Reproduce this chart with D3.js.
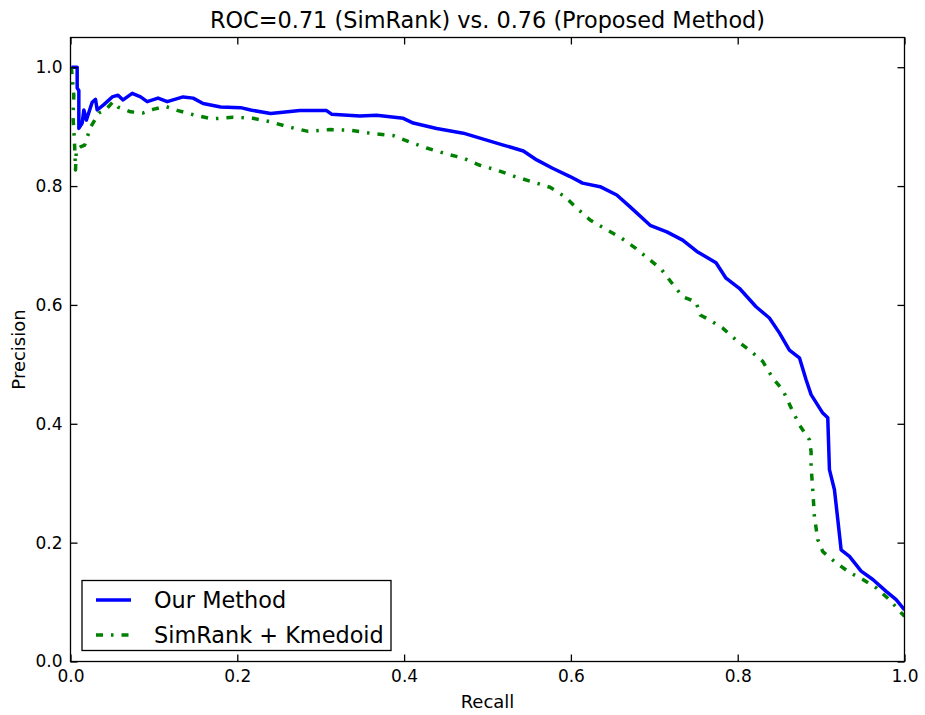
<!DOCTYPE html>
<html>
<head>
<meta charset="utf-8">
<script src="https://cdn.jsdelivr.net/npm/d3@7"></script>
<style>
  html, body { margin: 0; padding: 0; background: #fff; }
  svg { display: block; font-family: "DejaVu Sans", sans-serif; }
</style>
</head>
<body>
<svg id="chart" width="925" height="715"></svg>
<script>
// Precision–recall curves for the two clustering approaches
const chartTitle = "ROC=0.71 (SimRank) vs. 0.76 (Proposed Method)";
const xLabel = "Recall";
const yLabel = "Precision";
const seriesNames = ["Our Method", "SimRank + Kmedoid"];
const xTicks = [0.0, 0.2, 0.4, 0.6, 0.8, 1.0];
const yTicks = [0.0, 0.2, 0.4, 0.6, 0.8, 1.0];

// Our Method: [recall, precision]
const ourMethod = [
  [0.001, 1.0], [0.008, 1.0], [0.008, 0.965], [0.010, 0.961], [0.010, 0.897],
  [0.014, 0.906], [0.016, 0.928], [0.019, 0.911], [0.026, 0.941], [0.030, 0.946],
  [0.032, 0.928], [0.040, 0.937], [0.050, 0.950], [0.057, 0.953], [0.063, 0.945],
  [0.074, 0.956], [0.084, 0.950], [0.092, 0.942], [0.105, 0.948], [0.116, 0.942],
  [0.135, 0.950], [0.147, 0.948], [0.159, 0.939], [0.180, 0.933], [0.204, 0.932],
  [0.216, 0.928], [0.240, 0.922], [0.275, 0.927], [0.307, 0.927], [0.313, 0.921],
  [0.347, 0.918], [0.367, 0.919], [0.399, 0.914], [0.411, 0.906], [0.439, 0.897],
  [0.471, 0.889], [0.495, 0.879], [0.519, 0.869], [0.543, 0.859], [0.559, 0.844],
  [0.578, 0.830], [0.599, 0.816], [0.614, 0.805], [0.635, 0.799], [0.655, 0.785],
  [0.671, 0.765], [0.695, 0.734], [0.715, 0.723], [0.734, 0.709], [0.751, 0.690],
  [0.774, 0.671], [0.786, 0.645], [0.802, 0.628], [0.822, 0.597], [0.838, 0.578],
  [0.850, 0.553], [0.862, 0.524], [0.874, 0.511], [0.882, 0.474], [0.888, 0.449],
  [0.902, 0.418], [0.908, 0.410], [0.910, 0.323], [0.916, 0.289], [0.920, 0.239],
  [0.924, 0.188], [0.934, 0.177], [0.948, 0.152], [0.962, 0.138], [0.978, 0.118],
  [0.990, 0.104], [1.000, 0.087]
];

// SimRank + Kmedoid: [recall, precision]
const simRank = [
  [0.001, 1.0], [0.004, 0.953], [0.003, 0.916], [0.004, 0.894], [0.005, 0.866],
  [0.006, 0.827], [0.007, 0.861], [0.012, 0.866], [0.017, 0.869], [0.020, 0.882],
  [0.024, 0.899], [0.034, 0.923], [0.042, 0.928], [0.051, 0.942], [0.057, 0.933],
  [0.072, 0.925], [0.087, 0.923], [0.099, 0.929], [0.114, 0.934], [0.129, 0.927],
  [0.150, 0.919], [0.170, 0.913], [0.195, 0.916], [0.219, 0.914], [0.240, 0.908],
  [0.263, 0.899], [0.285, 0.892], [0.311, 0.895], [0.335, 0.894], [0.359, 0.889],
  [0.387, 0.885], [0.407, 0.874], [0.427, 0.864], [0.451, 0.854], [0.471, 0.847],
  [0.491, 0.835], [0.511, 0.827], [0.533, 0.816], [0.554, 0.807], [0.575, 0.798],
  [0.593, 0.782], [0.607, 0.763], [0.623, 0.743], [0.641, 0.728], [0.659, 0.714],
  [0.677, 0.696], [0.692, 0.679], [0.709, 0.659], [0.721, 0.637], [0.734, 0.614],
  [0.750, 0.605], [0.755, 0.583], [0.766, 0.575], [0.782, 0.561], [0.798, 0.541],
  [0.814, 0.524], [0.830, 0.505], [0.842, 0.477], [0.854, 0.457], [0.864, 0.427],
  [0.874, 0.398], [0.886, 0.373], [0.888, 0.353], [0.888, 0.328], [0.890, 0.289],
  [0.892, 0.244], [0.896, 0.205], [0.902, 0.185], [0.918, 0.166], [0.934, 0.150],
  [0.950, 0.138], [0.966, 0.124], [0.982, 0.104], [0.996, 0.082], [1.000, 0.076]
];

const colors = ["#0000ff", "#008000"];
const dashes = [null, "7,8,2.5,8"];

const svg = d3.select("#chart");
const margin = { left: 70.5, right: 20.5, top: 37.5, bottom: 53.5 };
const W = 925, H = 715;
const x = d3.scaleLinear().domain([0, 1]).range([margin.left, W - margin.right]);
const y = d3.scaleLinear().domain([0, 1.05]).range([H - margin.bottom, margin.top]);

const plotW = x.range()[1] - x.range()[0];
const plotH = y.range()[0] - y.range()[1];

// clip data to the axes box
svg.append("defs").append("clipPath").attr("id", "clip")
  .append("rect")
  .attr("x", margin.left).attr("y", margin.top)
  .attr("width", plotW).attr("height", plotH);

const line = d3.line().x(d => x(d[0])).y(d => y(d[1]));

const series = [ourMethod, simRank];
series.forEach((data, i) => {
  svg.append("path")
    .datum(data)
    .attr("clip-path", "url(#clip)")
    .attr("fill", "none")
    .attr("stroke", colors[i])
    .attr("stroke-width", 3.5)
    .attr("stroke-linejoin", "round")
    .attr("stroke-dasharray", dashes[i])
    .attr("d", line);
});

// axes: ticks pointing inwards on all four sides
const tickLen = 7;
const fmt = d3.format(".1f");
const axisColor = "#000";

const bottomAxis = d3.axisBottom(x).tickValues(xTicks).tickFormat(fmt).tickSizeInner(-tickLen).tickSizeOuter(0).tickPadding(8);
const topAxis = d3.axisTop(x).tickValues(xTicks).tickFormat("").tickSizeInner(-tickLen).tickSizeOuter(0);
const leftAxis = d3.axisLeft(y).tickValues(yTicks).tickFormat(fmt).tickSizeInner(-tickLen).tickSizeOuter(0).tickPadding(8);
const rightAxis = d3.axisRight(y).tickValues(yTicks).tickFormat("").tickSizeInner(-tickLen).tickSizeOuter(0);

function styleAxis(g) {
  g.select(".domain").remove();
  g.selectAll(".tick line").attr("stroke", axisColor).attr("stroke-width", 1.3);
  g.selectAll(".tick text").attr("fill", "#000").attr("font-size", 17)
    .attr("font-family", "DejaVu Sans, sans-serif");
}

svg.append("g").attr("transform", `translate(0,${y(0)})`).call(bottomAxis).call(styleAxis);
svg.append("g").attr("transform", `translate(0,${y(1.05)})`).call(topAxis).call(styleAxis);
svg.append("g").attr("transform", `translate(${x(0)},0)`).call(leftAxis).call(styleAxis);
svg.append("g").attr("transform", `translate(${x(1)},0)`).call(rightAxis).call(styleAxis);

// frame
svg.append("rect")
  .attr("x", margin.left).attr("y", margin.top)
  .attr("width", plotW).attr("height", plotH)
  .attr("fill", "none").attr("stroke", axisColor).attr("stroke-width", 1.3);

// title and axis labels
svg.append("text")
  .attr("x", (x.range()[0] + x.range()[1]) / 2).attr("y", 28)
  .attr("text-anchor", "middle").attr("font-size", 22.4)
  .text(chartTitle);

svg.append("text")
  .attr("x", (x.range()[0] + x.range()[1]) / 2).attr("y", 708)
  .attr("text-anchor", "middle").attr("font-size", 18)
  .text(xLabel);

svg.append("text")
  .attr("transform", `translate(25,${(y.range()[0] + y.range()[1]) / 2}) rotate(-90)`)
  .attr("text-anchor", "middle").attr("font-size", 18)
  .text(yLabel);

// legend
const legend = svg.append("g");
legend.append("rect")
  .attr("x", 82).attr("y", 580.5).attr("width", 309).attr("height", 70)
  .attr("fill", "#fff").attr("stroke", "#000").attr("stroke-width", 1.3);

seriesNames.forEach((name, i) => {
  const ly = 600 + i * 35;
  legend.append("line")
    .attr("x1", 96).attr("x2", 131).attr("y1", ly).attr("y2", ly)
    .attr("stroke", colors[i]).attr("stroke-width", 3.5)
    .attr("stroke-dasharray", dashes[i]);
  legend.append("text")
    .attr("x", 154).attr("y", ly + 8)
    .attr("font-size", 22.4)
    .text(name);
});
</script>
</body>
</html>
